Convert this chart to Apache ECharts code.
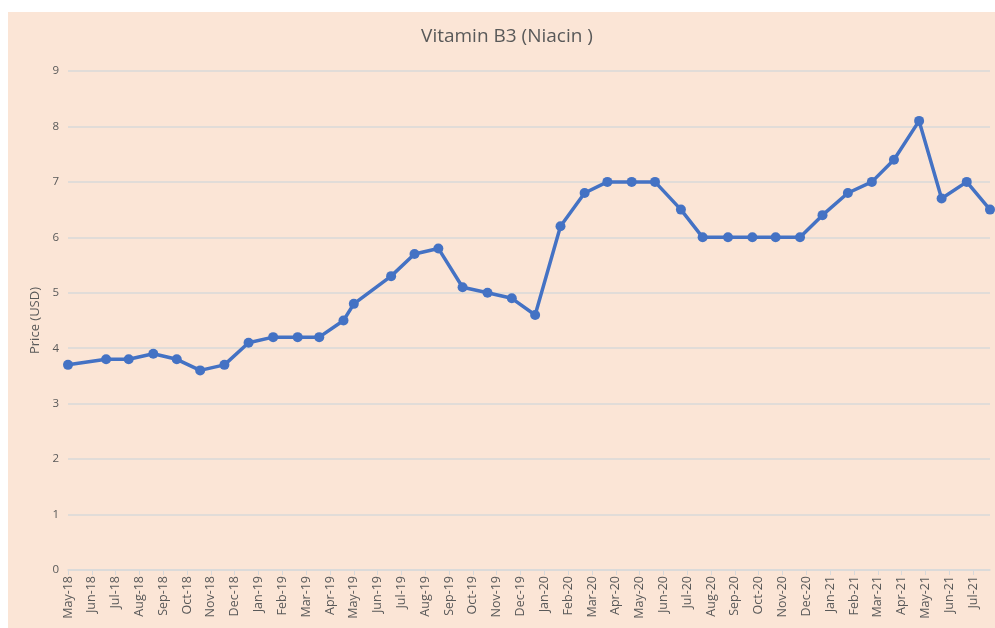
<!DOCTYPE html>
<html>
<head>
<meta charset="utf-8">
<script src="https://cdn.jsdelivr.net/npm/echarts@6/dist/echarts.min.js"></script>
<style>
  html, body { margin: 0; padding: 0; background: #ffffff; }
  #myChart { position: absolute; left: 8px; top: 12px; width: 987px; height: 616px; background: #FBE5D6; }
</style>
</head>
<body>
<div id="myChart"></div>
<script>
// month labels on the x axis (one tick per month, starting May-18)
var months = ['May-18', 'Jun-18', 'Jul-18', 'Aug-18', 'Sep-18', 'Oct-18', 'Nov-18', 'Dec-18',
  'Jan-19', 'Feb-19', 'Mar-19', 'Apr-19', 'May-19', 'Jun-19', 'Jul-19', 'Aug-19', 'Sep-19',
  'Oct-19', 'Nov-19', 'Dec-19', 'Jan-20', 'Feb-20', 'Mar-20', 'Apr-20', 'May-20', 'Jun-20',
  'Jul-20', 'Aug-20', 'Sep-20', 'Oct-20', 'Nov-20', 'Dec-20', 'Jan-21', 'Feb-21', 'Mar-21',
  'Apr-21', 'May-21', 'Jun-21', 'Jul-21']

// dates of the price points
var dates = ['2018-05-01', '2018-06-19', '2018-07-18', '2018-08-19', '2018-09-18', '2018-10-18',
  '2018-11-18', '2018-12-19', '2019-01-20', '2019-02-19', '2019-03-18', '2019-04-18',
  '2019-05-01', '2019-06-18', '2019-07-18', '2019-08-18', '2019-09-18', '2019-10-20',
  '2019-11-20', '2019-12-20', '2020-01-22', '2020-02-21', '2020-03-21', '2020-04-21',
  '2020-05-21', '2020-06-23', '2020-07-21', '2020-08-23', '2020-09-23', '2020-10-23',
  '2020-11-23', '2020-12-22', '2021-01-24', '2021-02-22', '2021-03-22', '2021-04-23',
  '2021-05-22', '2021-06-23', '2021-07-23']

// price in USD
var prices = [3.7, 3.8, 3.8, 3.9, 3.8, 3.6, 3.7, 4.1, 4.2, 4.2, 4.2, 4.5,
  4.8, 5.3, 5.7, 5.8, 5.1, 5.0, 4.9, 4.6, 6.2, 6.8, 7.0, 7.0,
  7.0, 6.5, 6.0, 6.0, 6.0, 6.0, 6.0, 6.4, 6.8, 7.0, 7.4, 8.1,
  6.7, 7.0, 6.5]

// date -> months since May 2018 (fractional)
function monthPos(d) {
  var p = d.split('-')
  var y = +p[0], m = +p[1], day = +p[2]
  var dim = new Date(y, m, 0).getDate()
  return (y - 2018) * 12 + (m - 5) + (day - 1) / dim
}

var points = []
for (var i = 0; i < prices.length; i++) {
  points.push([monthPos(dates[i]), prices[i]])
}

var font = '"Open Sans", "Noto Sans", sans-serif'
var gray = '#595959'

var myChart = echarts.init(document.getElementById('myChart'))
var option = {
  backgroundColor: '#FBE5D6',
  title: {
    text: 'Vitamin B3 (Niacin )',
    left: 494,
    textAlign: 'center',
    top: 10,
    textStyle: { fontFamily: font, fontSize: 19, fontWeight: 'normal', color: gray }
  },
  grid: { left: 60, right: 5, top: 59, bottom: 58 },
  xAxis: {
    type: 'value',
    min: 0,
    max: 'dataMax',
    interval: 1,
    axisLine: { show: true, lineStyle: { color: '#d9d9d9', width: 1.5 } },
    axisTick: { show: true, length: 5, lineStyle: { color: '#d9d9d9' } },
    splitLine: { show: false },
    axisLabel: {
      rotate: 90,
      margin: 6,
      showMaxLabel: false,
      fontFamily: font,
      fontSize: 12.5,
      color: gray,
      formatter: function (v) {
        return Number.isInteger(v) ? (months[v] || '') : ''
      }
    }
  },
  yAxis: {
    type: 'value',
    min: 0,
    max: 9,
    interval: 1,
    name: 'Price (USD)',
    nameLocation: 'middle',
    nameGap: 24,
    nameTextStyle: { fontFamily: font, fontSize: 13, color: gray },
    axisLine: { show: false },
    axisTick: { show: false },
    splitLine: { lineStyle: { color: '#d9d9d9', width: 1.5 } },
    axisLabel: { fontFamily: font, fontSize: 11.5, color: gray, margin: 9 }
  },
  series: [
    {
      type: 'line',
      data: points,
      clip: false,
      symbol: 'circle',
      symbolSize: 10,
      itemStyle: { color: '#4472C4' },
      lineStyle: { color: '#4472C4', width: 3.5 }
    }
  ]
}
myChart.setOption(option)
</script>
</body>
</html>
